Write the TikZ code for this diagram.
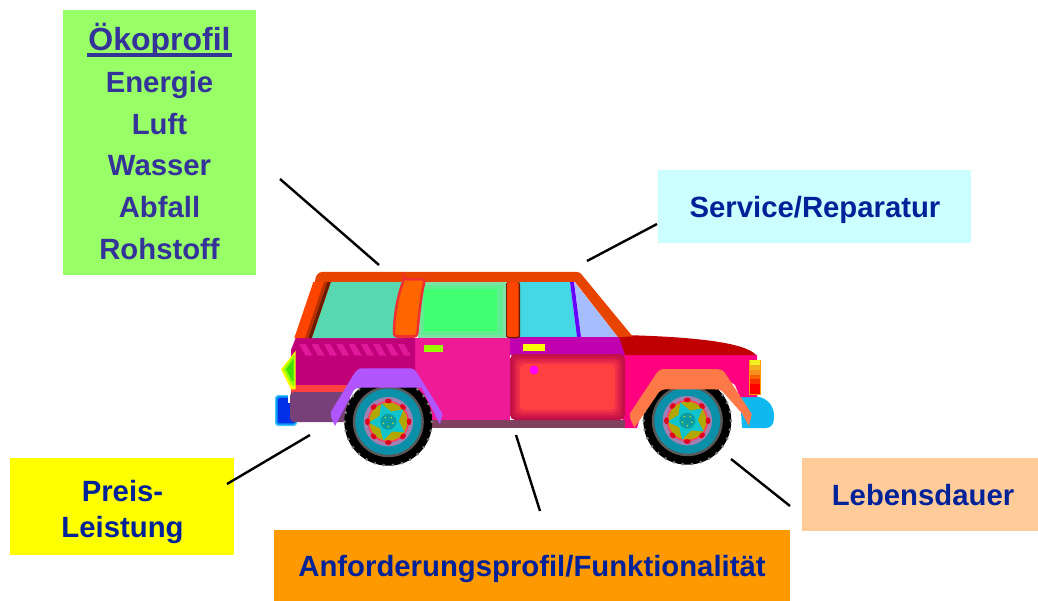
\documentclass[tikz,border=0pt]{standalone}
\usepackage{fontspec}
\setmainfont{Liberation Sans}
\definecolor{txtblue}{HTML}{002299}
\definecolor{txtviolet}{HTML}{333399}
\definecolor{boxgreen}{HTML}{99FF66}
\definecolor{boxcyan}{HTML}{CCFFFF}
\definecolor{boxyellow}{HTML}{FFFF00}
\definecolor{boxorange}{HTML}{FF9900}
\definecolor{boxpeach}{HTML}{FFCC99}
\definecolor{roofc}{HTML}{E64400}
\definecolor{wheelteal}{HTML}{0A90A8}
\definecolor{HTMLpurple}{HTML}{A080B0}
\definecolor{HTMLpink}{HTML}{FF4060}
\definecolor{HTMLolive}{HTML}{B0A800}
\definecolor{HTMLstar}{HTML}{10C4CC}
\definecolor{HTMLred}{HTML}{E00020}
\definecolor{HTMLhub}{HTML}{0A9CA0}
\definecolor{HTMLdot}{HTML}{B0E040}
\definecolor{HTMLbumper}{HTML}{10B8F0}
\definecolor{HTMLfront}{HTML}{FF0080}
\definecolor{HTMLdoor}{HTML}{EE1A96}
\definecolor{HTMLsill}{HTML}{804060}
\definecolor{HTMLfrontdoor}{HTML}{C000B0}
\definecolor{HTMLlime}{HTML}{99FF00}
\definecolor{HTMLrear}{HTML}{C00078}
\definecolor{HTMLredstripe}{HTML}{FF4040}
\definecolor{HTMLbumperrear}{HTML}{784078}
\definecolor{HTMLstripe}{HTML}{E0189A}
\definecolor{HTMLlampgreen}{HTML}{40E000}
\definecolor{HTMLhood}{HTML}{C00000}
\definecolor{HTMLrearwin}{HTML}{58D8B0}
\definecolor{HTMLsidea}{HTML}{80E0A8}
\definecolor{HTMLsideb}{HTML}{60EC90}
\definecolor{HTMLsidec}{HTML}{40FF70}
\definecolor{HTMLfrontwin}{HTML}{44D8E4}
\definecolor{HTMLquarter}{HTML}{A6BEFF}
\definecolor{HTMLviolet}{HTML}{6600FF}
\definecolor{HTMLorangered}{HTML}{FF4400}
\definecolor{HTMLpillar}{HTML}{FF6600}
\definecolor{HTMLpillarb}{HTML}{F03030}
\definecolor{HTMLfenderr}{HTML}{B055FF}
\definecolor{HTMLfenderf}{HTML}{FF7848}
\definecolor{HTMLdarka}{HTML}{B83200}
\definecolor{HTMLdarkb}{HTML}{6A1C00}
\definecolor{HTMLdotm}{HTML}{FF00FF}
\definecolor{HTMLyellow}{HTML}{FFFF00}
\definecolor{HTMLlampo}{HTML}{FF9900}
\definecolor{HTMLblueA}{HTML}{40C8FF}
\definecolor{HTMLblueB}{HTML}{0080F0}
\definecolor{HTMLblueC}{HTML}{0030E8}
\newcommand{\thickul}[1]{\setbox0\hbox{#1}\rlap{\kern-1.5pt\rule[-6pt]{\dimexpr\wd0+3pt\relax}{3.6pt}}\box0}
\tikzset{
 x=1pt,y=-1pt,
 labelbox/.style={inner sep=0pt,align=center,text=txtblue,font=\bfseries\fontsize{29.3}{36}\selectfont},
 callout/.style={draw=black,line width=2.4pt},
}
\newcommand{\carwheel}[2]{%
 \begin{scope}[shift={(#1,#2)}]
  \fill[black] (0,0) circle[radius=44];
  \foreach \a in {0,12,...,348}{\fill[gray] (\a:43.6) circle[radius=1.5];}
  \fill[black!65] (0,0) circle[radius=35.5];
  \fill[wheelteal] (0,0) circle[radius=33];
  \fill[HTMLpurple] (0,0) circle[radius=24.7];
  \fill[HTMLpink] (0,0) circle[radius=20.8];
  \fill[HTMLolive] (0,0) circle[radius=19];
  \fill[HTMLstar] (105:19.5)--(141:10.5)--(177:19.5)--(213:10.5)--(249:19.5)--(285:10.5)--(321:19.5)--(357:10.5)--(33:19.5)--(69:10.5)--cycle;
  \foreach \a in {0,45,...,315}{\fill[HTMLred,rotate=\a] (20.8,0) ellipse[x radius=2.4,y radius=3.4];}
  \fill[HTMLhub] (0,0) circle[radius=8];
  \foreach \a in {90,162,234,306,18}{\fill[HTMLdot] (\a:5) circle[radius=0.9];}
 \end{scope}}
\begin{document}
\begin{tikzpicture}
\useasboundingbox (0,0) rectangle (1038,601);
% boxes
\fill[boxgreen] (63,10) rectangle (256,275);
\node[labelbox,text=txtviolet,font=\bfseries\fontsize{29.3}{41.8}\selectfont,anchor=center] (oeko) at (159.5,141.5)
 {{\fontsize{32}{41.8}\selectfont\thickul{Ökoprofil}}\\Energie\\Luft\\Wasser\\Abfall\\Rohstoff};
\fill[boxcyan] (658,170) rectangle (971,243);
\node[labelbox,anchor=center] (service) at (815,209.5) {Service/Reparatur};
\fill[boxyellow] (10,458) rectangle (234,555);
\node[labelbox,anchor=center] (preis) at (122.5,512) {Preis-\\Leistung};
\fill[boxorange] (274,530) rectangle (790,601);
\node[labelbox,anchor=center] (anf) at (532,569) {Anforderungsprofil/Funktionalität};
\fill[boxpeach] (802,458) rectangle (1038,531);
\node[labelbox,anchor=center] (leben) at (923,495.5) {Lebensdauer};
% connector ends
\coordinate (a1) at (280,179); \coordinate (a2) at (379,265);
\coordinate (b1) at (657,224); \coordinate (b2) at (587,261);
\coordinate (c1) at (227,484); \coordinate (c2) at (310,435);
\coordinate (d1) at (540,511); \coordinate (d2) at (516,435);
\coordinate (e1) at (790,506); \coordinate (e2) at (731,459);
\draw[callout] (a1)--(a2);
\draw[callout] (b1)--(b2);
\draw[callout] (c1)--(c2);
\draw[callout] (d1)--(d2);
\draw[callout] (e1)--(e2);
% rear blue block
\fill[HTMLblueA,rounded corners=3pt] (275,395) rectangle (297,426);
\fill[HTMLblueB,rounded corners=3pt] (276.3,396.3) rectangle (296,424.7);
\fill[HTMLblueC,rounded corners=2pt] (278,398) rectangle (295,423);
\fill[white] (287.5,395) rectangle (297,403);
% front bumper
\fill[HTMLbumper] (740,396)--(752,396) .. controls (766,396) and (775,405) .. (774,418) .. controls (774,425) and (770,428) .. (766,428)--(742,428)--cycle;
% body pieces
\fill[HTMLfront] (618,337)--(757,355)--(757,397)--(740,397)--(735,385)--(716,372)--(665,372)--(650,385)--(637,428)--(623,428)--cycle;
\fill[HTMLdoor] (415,338)--(510,338)--(510,421)--(415,421)--cycle;
\fill[HTMLsill] (425,420)--(625,420)--(625,428)--(425,428)--cycle;
\fill[HTMLfrontdoor] (510,337)--(619,337)--(625,355)--(510,355)--cycle;
% door panel with stepped gradient
\foreach \i/\c in {0/C01048,1/D01848,2/E02448,3/F03048,4/FF4040}{
  \definecolor{tmpc}{HTML}{\c}
  \fill[tmpc,rounded corners=5pt] ({510+2.5*\i},{354+2.5*\i}) rectangle ({625-2.5*\i},{420-2.5*\i});}
\fill[HTMLdotm] (534,370) circle[radius=4.5];
\fill[HTMLyellow] (522.7,344) rectangle (545,351);
\fill[HTMLlime] (424,345) rectangle (443,351.7);
% rear body
\fill[HTMLrear] (295.7,338)--(415,338)--(415,372)--(345,388)--(291,388)--(291,350)--cycle;
\fill[HTMLredstripe] (291,385) rectangle (350,393);
\fill[HTMLbumperrear,rounded corners=4pt] (290,392) rectangle (350,422);
\foreach \i in {0,...,8}{
  \fill[HTMLstripe] ({299.3+12.3*\i},344)--++(6.3,0)--++(7,11.7)--++(-7,0)--cycle;}
% left lamp
\fill[HTMLyellow] (295.7,350.7)--(281,369.3)--(291,389.3)--(295.7,389.3)--cycle;
\fill[HTMLlime] (294.5,354)--(283,369.3)--(292,386)--(294.5,386)--cycle;
\fill[HTMLlampgreen] (293.5,359)--(286,369.3)--(292,381)--(293.5,381)--cycle;
% hood
\fill[HTMLhood] (619,337)--(632.7,335.3) .. controls (690,337) and (745,342) .. (756,355)--(625,355)--cycle;
% lamp front
\fill[HTMLlampo] (749,360) rectangle (760.7,395);
\foreach \y/\h/\c in {360/5/F0F020,365/5/F0B020,370/5/F89020,375/4/F86000,379/5/F83000,384/10/FF0000}{
  \definecolor{tmpc}{HTML}{\c}
  \fill[tmpc] (750,\y) rectangle (760,\y+\h);}
% windows
\fill[HTMLrearwin] (330.7,282)--(311.7,338)--(403,338)--(402,282)--cycle;
\fill[HTMLsidea] (418,282) rectangle (506,338);
\fill[HTMLsideb] (421,285) rectangle (503,335);
\fill[HTMLsidec] (424,289) rectangle (497,331);
\fill[HTMLfrontwin] (518,282)--(570,282)--(577,337)--(518,337)--cycle;
\fill[HTMLquarter] (574.3,282)--(618,337)--(581,337)--cycle;
\fill[HTMLviolet] (570,282)--(574,282)--(581,337)--(577,337)--cycle;
% pillars
\fill[HTMLorangered] (313.3,282)--(330.7,282)--(311.7,338)--(294.3,338)--cycle;
\fill[HTMLdarka] (324,282)--(330.7,282)--(311.7,338)--(305,338)--cycle;
\fill[HTMLdarkb] (327.5,282)--(330.7,282)--(311.7,338)--(308.5,338)--cycle;
\fill[HTMLdarkb,rounded corners=2pt] (506,282) rectangle (520,338);
\fill[HTMLorangered,rounded corners=1.5pt] (507,282) rectangle (518.5,337);
% roof
\fill[roofc] (315,282) .. controls (315,276) and (318,272) .. (322,272)--(577,272) .. controls (579,272) and (581,273) .. (582,275)--(632.7,336.5)--(618,337)--(575,282)--cycle;
\fill[HTMLpillar,draw=HTMLpillarb,line width=2.5pt,rounded corners=3pt] (404,279.5)--(425,279.5) .. controls (421,295) and (419,315) .. (417,336.5)--(394,336.5) .. controls (394,315) and (398,295) .. (404,279.5)--cycle;
% wheels
\carwheel{388.3}{421.7}
\carwheel{687.3}{420.7}
% fenders
\fill[HTMLfenderr] (331,411.7)--(353.3,375) .. controls (356,371) and (358,368.3) .. (362,368.3)--(410,368.3) .. controls (414,368.3) and (416,371) .. (418.3,375)--(442.7,414)--(440,424.3)--(421.7,388) .. controls (420,387) and (418,387.7) .. (416,387.7)--(362,387.7) .. controls (358,387.7) and (356,388) .. (354,390)--(335,426)--(331,416.7)--cycle;
\fill[HTMLfenderf] (630,413.3)--(656.7,373) .. controls (659,370) and (661,369) .. (665,369)--(716.7,369) .. controls (720,369) and (723,370) .. (725,373)--(751.7,414)--(749,426)--(741.7,413)--(722,391) .. controls (720,389.5) and (718,389.3) .. (716,389.3)--(666,389.3) .. controls (663,389.3) and (661,390) .. (659,392)--(643.3,415)--(634.3,427.7)--(630,418)--cycle;
\end{tikzpicture}
\end{document}
